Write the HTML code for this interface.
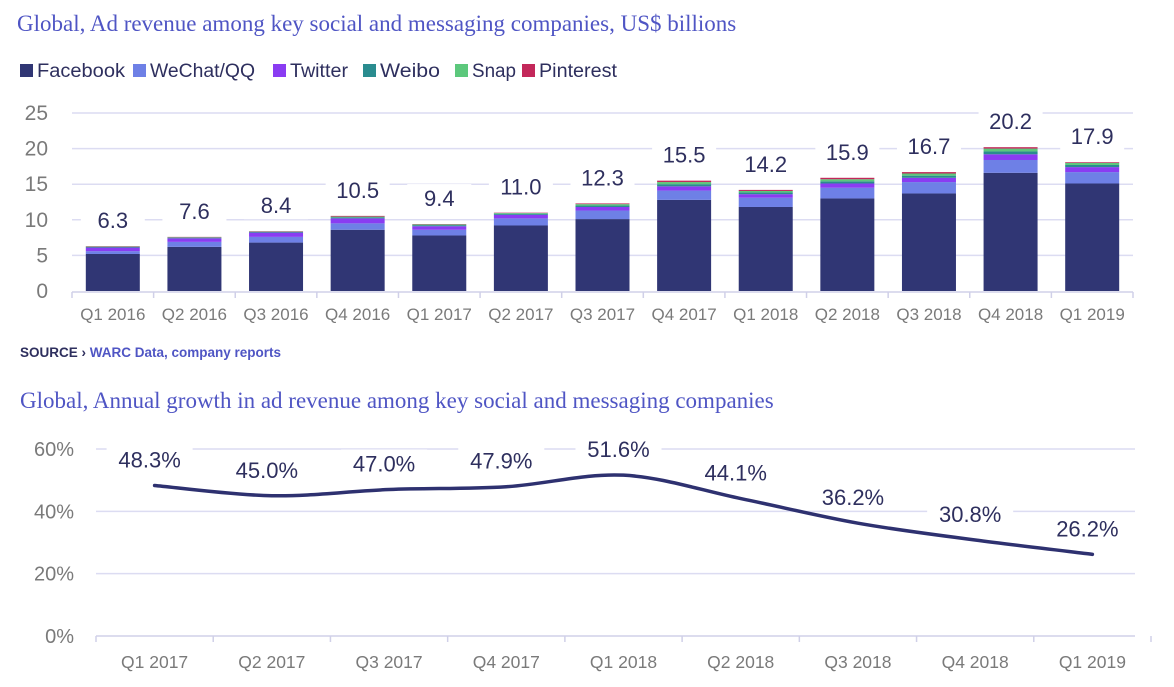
<!DOCTYPE html>
<html><head><meta charset="utf-8"><style>
body{margin:0;background:#fff;width:1174px;height:687px;overflow:hidden;font-family:"Liberation Sans",sans-serif}
svg{display:block}
</style></head><body>
<svg id="svg" width="1174" height="687" xmlns="http://www.w3.org/2000/svg">
<text x="17" y="31" font-family="Liberation Serif,serif" font-size="23" fill="#4f55c4">Global, Ad revenue among key social and messaging companies, US$ billions</text>
<g id="legend"></g>
<g id="topchart"></g>
<text x="20" y="357" font-size="13.5" font-weight="bold" fill="#2e2f5e">SOURCE › <tspan fill="#4f55c4">WARC Data, company reports</tspan></text>
<text x="20" y="408" font-family="Liberation Serif,serif" font-size="23" fill="#4f55c4">Global, Annual growth in ad revenue among key social and messaging companies</text>
<g id="bottomchart"></g>
</svg>
<script>
const NS='http://www.w3.org/2000/svg';
const quarters=['Q1 2016','Q2 2016','Q3 2016','Q4 2016','Q1 2017','Q2 2017','Q3 2017','Q4 2017','Q1 2018','Q2 2018','Q3 2018','Q4 2018','Q1 2019'];
const seriesNames=['Facebook','WeChat/QQ','Twitter','Weibo','Snap','Pinterest'];
const facebook=[5.2,6.2,6.8,8.6,7.8,9.2,10.1,12.8,11.8,13.0,13.7,16.6,15.1];
const wechat=[0.4,0.7,0.8,0.9,0.8,1.0,1.2,1.3,1.3,1.5,1.6,1.8,1.6];
const twitter=[0.5,0.5,0.6,0.7,0.5,0.5,0.5,0.6,0.5,0.6,0.6,0.8,0.7];
const weibo=[0.1,0.1,0.1,0.15,0.15,0.15,0.2,0.3,0.25,0.3,0.3,0.4,0.3];
const snap=[0.05,0.05,0.05,0.1,0.1,0.1,0.2,0.3,0.2,0.3,0.3,0.4,0.3];
const pinterest=[0.05,0.05,0.05,0.1,0.05,0.05,0.1,0.2,0.15,0.2,0.2,0.2,0.1];
const totals=['6.3','7.6','8.4','10.5','9.4','11.0','12.3','15.5','14.2','15.9','16.7','20.2','17.9'];
const yTicks=[0,5,10,15,20,25];
const colors=['#303674','#6e80e6','#8a3cf2','#2a8c8f','#5cc87c','#c3285a'];
const growthCats=['Q1 2017','Q2 2017','Q3 2017','Q4 2017','Q1 2018','Q2 2018','Q3 2018','Q4 2018','Q1 2019'];
const growth=[48.3,45.0,47.0,47.9,51.6,44.1,36.2,30.8,26.2];
const gTicks=[0,20,40,60];

function el(tag,attrs,parent,text){const e=document.createElementNS(NS,tag);for(const k in attrs)e.setAttribute(k,attrs[k]);if(text!==undefined)e.textContent=text;parent.appendChild(e);return e;}

const lg=document.getElementById('legend');
const legX=[20,133,273,363,455,522];
const legW=[108,125,78,80,64,98];
seriesNames.forEach((n,i)=>{
  const r=el('rect',{x:legX[i],y:64,width:13,height:13,fill:colors[i]},lg);
  
  
  const t=el('text',{x:legX[i]+17,y:77,'font-size':19,fill:'#2e2f5e',textLength:legW[i]-20,lengthAdjust:'spacingAndGlyphs'},lg,n);
  
  
});

const topG=document.getElementById('topchart');
const X0=72,X1=1133,Y0=291,Y1=113,yMax=25;
const band=(X1-X0)/quarters.length;
const ys=v=>Y0-(v/yMax)*(Y0-Y1);
const xc=i=>X0+band*(i+0.5);
yTicks.forEach(t=>{
  if(t>0){const g=el('line',{x1:X0,x2:X1,y1:ys(t),y2:ys(t),stroke:'#dcdcf2','stroke-width':1.5},topG);
  }
  const tx=el('text',{x:48,y:ys(t)+7,'font-size':21,fill:'#7a7a7a','text-anchor':'end'},topG,t);
  
});
const ax=el('line',{x1:X0,x2:X1,y1:Y0+1,y2:Y0+1,stroke:'#d0d0e8','stroke-width':1.5},topG);

for(let i=0;i<=quarters.length;i++){const tk=el('line',{x1:X0+band*i,x2:X0+band*i,y1:Y0+1,y2:Y0+7,stroke:'#d0d0e8','stroke-width':1.5},topG);
}
const all=[facebook,wechat,twitter,weibo,snap,pinterest];
const bw=54;
quarters.forEach((q,i)=>{
  let acc=0;
  all.forEach((s,k)=>{
    const y1=ys(acc+s[i]),y0=ys(acc);
    const r=el('rect',{x:xc(i)-bw/2,y:y1,width:bw,height:Math.max(0,y0-y1),fill:colors[k]},topG);
    
    
    acc+=s[i];
  });
  const ty=ys(acc)-18;
  const bg=el('rect',{x:xc(i)-32,y:ty-22,width:64,height:28,fill:'#fff'},topG);
  
  const lt=el('text',{x:xc(i),y:ty,'font-size':22,fill:'#2e2f5e','text-anchor':'middle'},topG,totals[i]);
  
  const xl=el('text',{x:xc(i),y:320,'font-size':17,fill:'#7a7a7a','text-anchor':'middle'},topG,q);
  
});

const botG=document.getElementById('bottomchart');
const BX0=96,BX1=1151,BY0=636,BY1=449,gMax=60;
const gb=(BX1-BX0)/growthCats.length;
const gy=v=>BY0-(v/gMax)*(BY0-BY1);
const gx=i=>BX0+gb*(i+0.5);
gTicks.forEach(t=>{
  const g=el('line',{x1:BX0,x2:1135,y1:gy(t),y2:gy(t),stroke:t===0?'#d0d0e8':'#dcdcf2','stroke-width':1.5},botG);
  
  const tx=el('text',{x:74,y:gy(t)+7,'font-size':20,fill:'#7a7a7a','text-anchor':'end'},botG,t+'%');
  
});
for(let i=0;i<=growthCats.length;i++){const tk=el('line',{x1:BX0+gb*i,x2:BX0+gb*i,y1:BY0,y2:BY0+6,stroke:'#d0d0e8','stroke-width':1.5},botG);
}
const pts=growth.map((v,i)=>[gx(i),gy(v)]);
let d='M'+pts[0][0]+','+pts[0][1];
for(let i=0;i<pts.length-1;i++){
  const p0=pts[Math.max(0,i-1)],p1=pts[i],p2=pts[i+1],p3=pts[Math.min(pts.length-1,i+2)];
  const c1=[p1[0]+(p2[0]-p0[0])/6,p1[1]+(p2[1]-p0[1])/6];
  const c2=[p2[0]-(p3[0]-p1[0])/6,p2[1]-(p3[1]-p1[1])/6];
  d+=` C${c1[0]},${c1[1]} ${c2[0]},${c2[1]} ${p2[0]},${p2[1]}`;
}
const path=el('path',{d:d,fill:'none',stroke:'#2e3170','stroke-width':3.5,'stroke-linecap':'round'},botG);

growth.forEach((v,i)=>{
  const ty=gy(v)-18;
  const bg=el('rect',{x:gx(i)-48,y:ty-22,width:86,height:27,fill:'#fff'},botG);
  
  const t=el('text',{x:gx(i)-5,y:ty,'font-size':22,fill:'#2e2f5e','text-anchor':'middle'},botG,v.toFixed(1)+'%');
  
  const xl=el('text',{x:gx(i),y:668,'font-size':17.5,fill:'#7a7a7a','text-anchor':'middle'},botG,growthCats[i]);
  
});
</script>
</body></html>
